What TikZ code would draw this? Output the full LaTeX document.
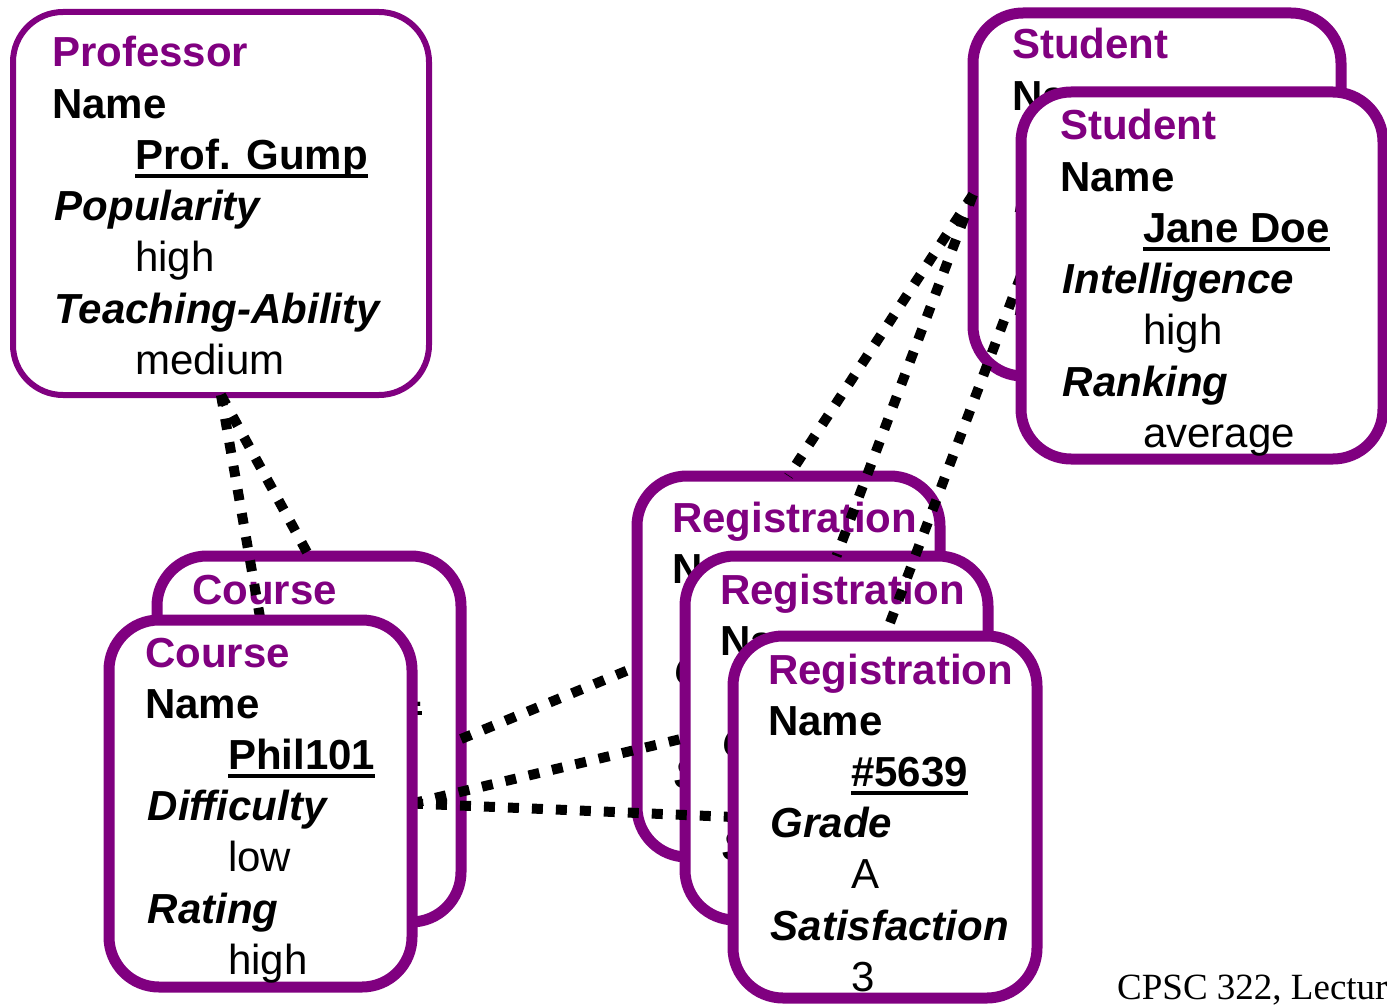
\documentclass[tikz,border=0pt]{standalone}
\usepackage{fontspec}
\setmainfont{Liberation Sans}
\newfontfamily\footfont{Liberation Serif}
\definecolor{cardpurple}{HTML}{800080}
\pgfdeclarelayer{backcards}
\pgfdeclarelayer{links}
\pgfsetlayers{backcards,links,main}
\newcommand\myul[1]{\setbox0\hbox{#1}\rlap{\rule[-8.5pt]{\wd0}{3.5pt}}\box0}
\newcommand\ctitle[1]{\textcolor{cardpurple}{\bfseries #1}}
\newcommand\clab[1]{\textbf{#1}}
\newcommand\cilab[1]{\hspace*{2.5pt}\textbf{\itshape #1}}
\newcommand\cval[1]{\hspace*{83pt}#1}
\newcommand\cuval[1]{\hspace*{83pt}\myul{\bfseries #1}}
\newcommand\cardlines[4]{%
  \foreach \t [count=\i] in {#4} {\node[cardtext] (#1-\i) at (#2, #3+\i*51.2-51.2) {\t};}}
\tikzset{
  card/.style={rectangle, draw=cardpurple, fill=white, line width=11pt,
    rounded corners=50pt, inner sep=0pt, outer sep=0pt},
  cardtext/.style={anchor=base west, inner sep=0pt, font=\fontsize{42pt}{50pt}\selectfont},
  conn/.style={line width=10pt, dash pattern=on 11pt off 13pt, black}
}
\begin{document}
\begin{tikzpicture}[x=1pt, y=-1pt]
\useasboundingbox (0,0) rectangle (1387,1006);
\begin{pgfonlayer}{backcards}
\fill[white] (0,0) rectangle (1387,1006);
\node[card, line width=6pt, minimum width=416pt, minimum height=383pt] (prof) at (221,203.5) {};
\cardlines{proft}{52}{67}{\ctitle{Professor},\clab{Name},\cuval{Prof. Gump},\cilab{Popularity},\cval{high},\cilab{Teaching-Ability},\cval{medium}}
\node[card, minimum width=368pt, minimum height=363pt] (bstud) at (1157,194.5) {};
\cardlines{bstudt}{1012}{59}{\ctitle{Student},\clab{Name},\cuval{Jane Doe},\cilab{Intelligence},\cval{high},\cilab{Ranking},\cval{average}}
\node[card, minimum width=304pt, minimum height=366pt] (bcourse) at (309,739) {};
\cardlines{bcourset}{192}{604}{\ctitle{Course},\clab{Name},\cuval{Phil101},\cilab{Difficulty},\cval{low},\cilab{Rating},\cval{high}}
\node[card, minimum width=303pt, minimum height=381pt] (breg) at (788.5,666.5) {};
\cardlines{bregt}{672}{532}{\ctitle{Registration},\clab{Name},\cuval{\#5639},\cilab{Grade},\cval{A},\cilab{Satisfaction},\cval{3}}
\node[card, minimum width=303pt, minimum height=364pt] (mreg) at (836.5,738) {};
\cardlines{mregt}{720}{604}{\ctitle{Registration},\clab{Name},\cuval{\#5639},\cilab{Grade},\cval{A},\cilab{Satisfaction},\cval{3}}
\end{pgfonlayer}
% front cards
\begin{scope}
\clip (0,0) rectangle (1387,1006);
\node[card, minimum width=303pt, minimum height=367pt] (fcourse) at (260.5,803.5) {};
\cardlines{fcourset}{145}{667}{\ctitle{Course},\clab{Name},\cuval{Phil101},\cilab{Difficulty},\cval{low},\cilab{Rating},\cval{high}}
\node[card, minimum width=362pt, minimum height=367pt] (fstud) at (1202,275.5) {};
\cardlines{fstudt}{1060}{140}{\ctitle{Student},\clab{Name},\cuval{Jane Doe},\cilab{Intelligence},\cval{high},\cilab{Ranking},\cval{average}}
\node[card, minimum width=304pt, minimum height=362pt] (freg) at (885,817) {};
\cardlines{fregt}{768}{684}{\ctitle{Registration},\clab{Name},\cuval{\#5639},\cilab{Grade},\cval{A},\cilab{Satisfaction},\cval{3}}
\node[anchor=base west, inner sep=0pt, font=\footfont\fontsize{37pt}{40pt}\selectfont] (foot) at (1117,999) {CPSC 322, Lecture};
\end{scope}
% connectors
\begin{pgfonlayer}{links}
\draw[conn] (prof.south) -- (bcourse.north);
\draw[conn] (prof.south) -- (fcourse.north);
\draw[conn] (bstud.west) -- (breg.north);
\draw[conn] (bstud.west) -- (mreg.north);
\draw[conn] (fstud.west) -- (freg.north);
\draw[conn] (bcourse.east) -- (breg.west);
\draw[conn] (fcourse.east) -- (mreg.west);
\draw[conn] (fcourse.east) -- (freg.west);
\end{pgfonlayer}
\end{tikzpicture}
\end{document}
